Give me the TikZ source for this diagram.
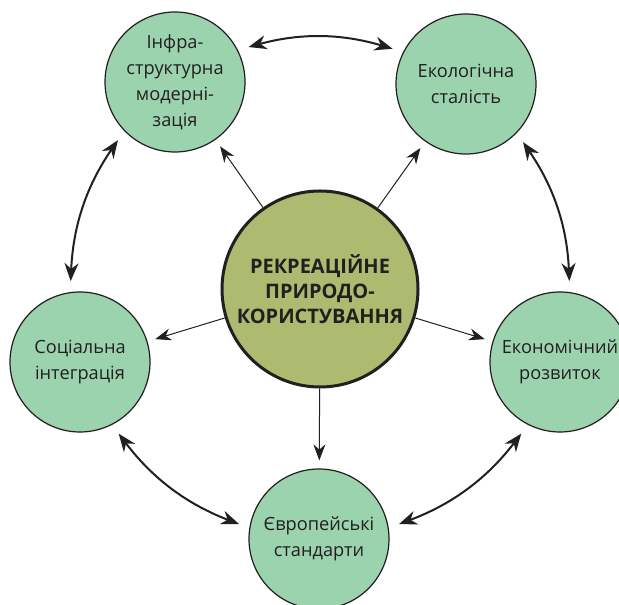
\documentclass[tikz,border=0pt]{standalone}
\usepackage{fontspec}
\setmainfont{Open Sans}
\usepackage{tikz}
\usetikzlibrary{arrows.meta}
\usepackage{xcolor}
\definecolor{leafgreen}{RGB}{155,211,174}
\definecolor{olivegreen}{RGB}{173,187,113}
\definecolor{inkblack}{RGB}{35,31,32}

\begin{document}
\begin{tikzpicture}[x=0.5pt,y=0.5pt,
  goal/.style={circle,draw=inkblack,line width=0.6pt,fill=leafgreen,minimum size=70pt,
    inner sep=0pt,align=center,text=inkblack,font=\fontsize{9.1}{13}\selectfont},
  core/.style={circle,draw=inkblack,line width=1.5pt,fill=olivegreen,minimum size=98pt,
    inner sep=0pt,align=center,text=inkblack,font=\fontsize{10}{12.5}\selectfont\bfseries},
  feed/.style={draw=inkblack,line width=0.5pt,-{Stealth[length=8pt,width=6pt]},shorten >=4pt},
  link/.style={draw=inkblack,line width=1pt,{Stealth[length=9pt,width=7pt]}-{Stealth[length=9pt,width=7pt]},
    shorten >=5.5pt,shorten <=5.5pt,bend left=16}]
\useasboundingbox (0,0) rectangle (619,604);

\node [core] (cen) at (320,315) {РЕКРЕАЦІЙНЕ\\ПРИРОДО-\\КОРИСТУВАННЯ};

\node [goal] (infra) at (175,522) {Інфра-\\структурна\\модерні-\\зація};
\node [goal] (eco) at (466,520) {Екологічна\\сталість};
\node [goal] (ekon) at (560,242) {Економічний\\розвиток};
\node [goal] (euro) at (319,65) {Європейські\\стандарти};
\node [goal] (soc) at (80,242) {Соціальна\\інтеграція};

% from the centre
\foreach \g in {infra,eco,ekon,euro,soc}
  \draw [feed] (cen) -- (\g);

% round the ring
\draw [link] (infra.27) to (eco.153);
\draw [link] (eco.-44) to (ekon.82);
\draw [link] (ekon.-117) to (euro.9);
\draw [link] (euro.171) to (soc.-63);
\draw [link] (soc.98) to (infra.224);

\end{tikzpicture}
\end{document}
